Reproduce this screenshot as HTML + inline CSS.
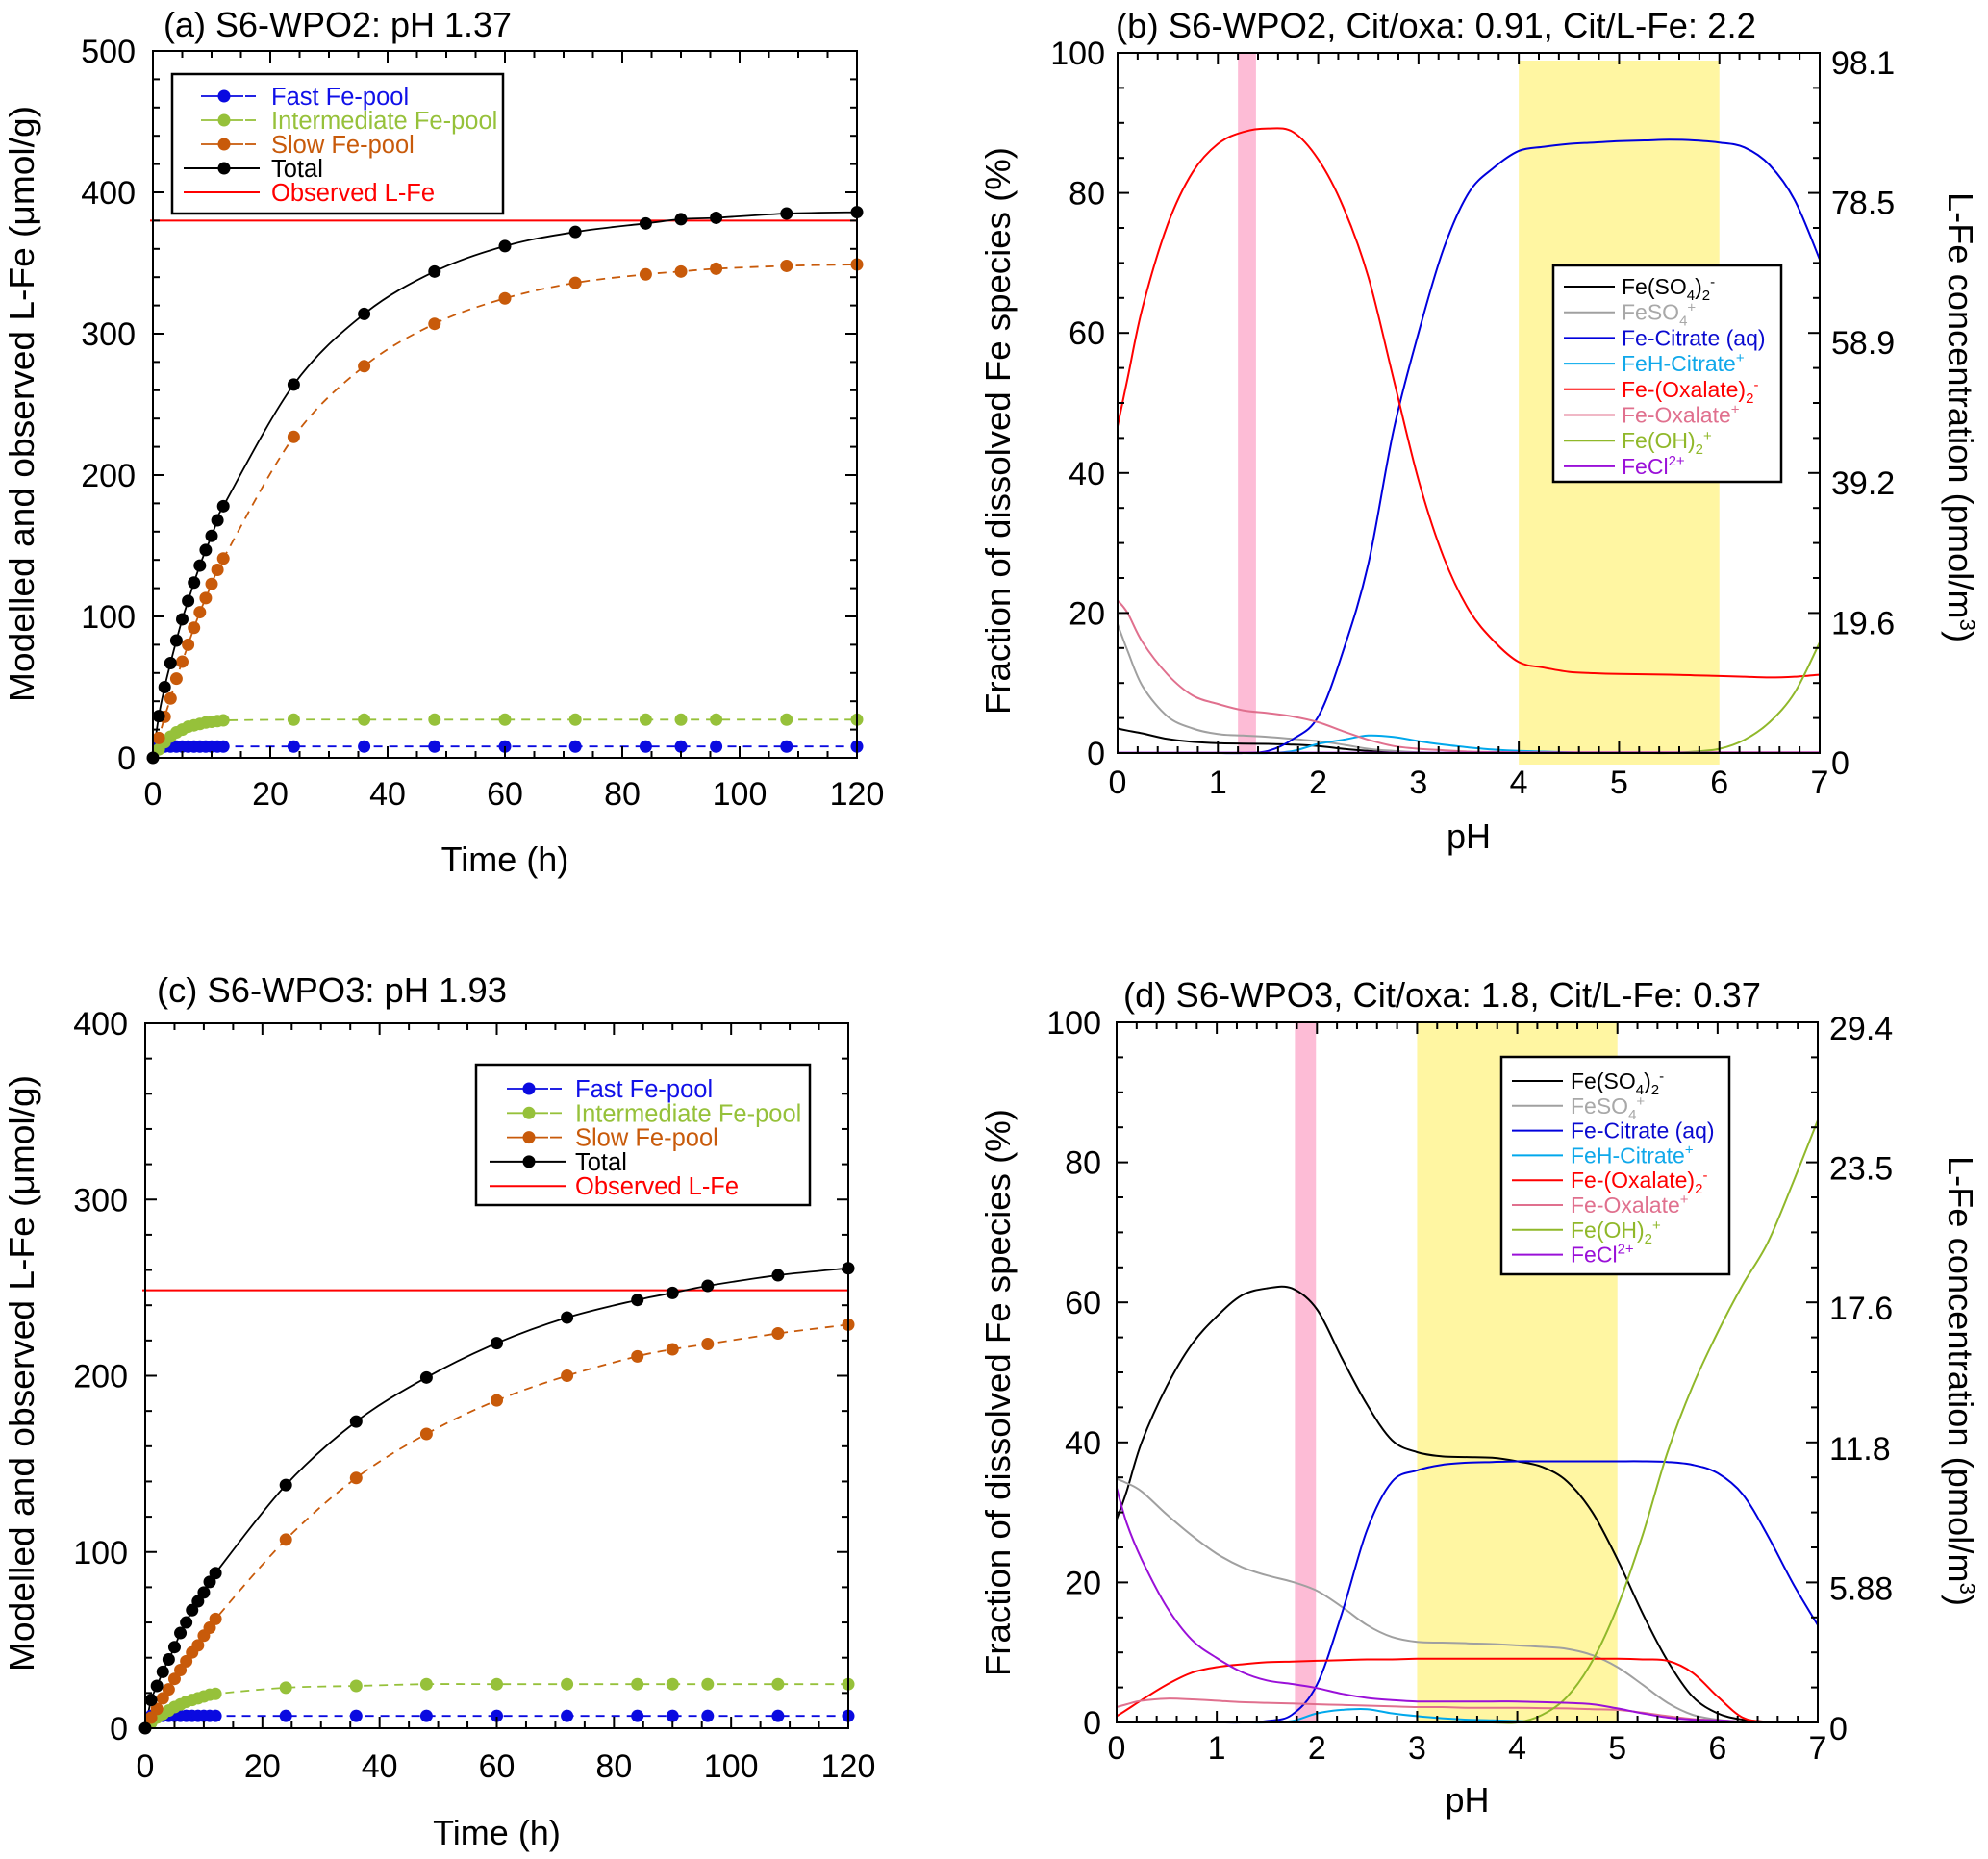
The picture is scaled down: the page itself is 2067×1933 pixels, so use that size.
<!DOCTYPE html>
<html><head><meta charset="utf-8"><style>
html,body{margin:0;padding:0;background:#fff;}
svg{display:block;font-family:"Liberation Sans",Arial,sans-serif;}
</style></head><body>
<svg id="chart" width="2067" height="1933" viewBox="0 0 2067 1933" xmlns="http://www.w3.org/2000/svg"></svg>
<script>
// ---------- Data: panels (a) and (c) ----------
const timesA = [0,1,2,3,4,5,6,7,8,9,10,11,12,24,36,48,60,72,84,90,96,108,120];
const fastA  = [0,8,8,8,8,8,8,8,8,8,8,8,8,8,8,8,8,8,8,8,8,8,8];
const interA = [0,6,11,15,18,20,22,23,24,25,25.5,26,26.5,27,27,27,27,27,27,27,27,27,27];
const slowA  = [0,14,29,42,56,68,80,92,103,113,123,133,141,227,277,307,325,336,342,344,346,348,349];
const totalA = [0,29.5,50,67,83,98,111,124,136,147,157,168,178,264,314,344,362,372,378,381,382,385,386];
const observedA = 380;

const timesC = [0,1,2,3,4,5,6,7,8,9,10,11,12,24,36,48,60,72,84,90,96,108,120];
const fastC  = [0,7,7,7,7,7,7,7,7,7,7,7,7,7,7,7,7,7,7,7,7,7,7];
const interC = [0,3,6,8,10,12,13.5,15,16,17,18,19,19.5,23,24,25,25,25,25,25,25,25,25];
const slowC  = [0,6,11,17,22,28,33,38,43,47,52.5,57,62,107,142,167,186,200,211,215,218,224,229];
const totalC = [0,16,24,32,39,46,54,60,67,72,77,83,88,138,174,199,218.5,233,243,247,251,257,261];
const observedC = 248.5;

const timeTicks = [0,20,40,60,80,100,120];
const yTicksA = [0,100,200,300,400,500];
const yTicksC = [0,100,200,300,400];

// ---------- Data: panels (b) and (d) ----------
const phGrid = [0,0.1,0.25,0.5,0.75,1,1.25,1.5,1.75,2,2.25,2.5,2.75,3,3.25,3.5,3.75,4,4.25,4.5,4.75,5,5.25,5.5,5.75,6,6.25,6.5,6.75,7];

const so42B  = [3.5,3.2,2.8,2,1.6,1.4,1.35,1.3,1.2,1,0.6,0.3,0.1,0,0,0,0,0,0,0,0,0,0,0,0,0,0,0,0,0];
const feso4B = [18.4,14.6,9.5,5.2,3.5,2.7,2.5,2.3,2,1.7,1.2,0.6,0.3,0.1,0,0,0,0,0,0,0,0,0,0,0,0,0,0,0,0];
const citB   = [0,0,0,0,0,0,0,0.3,2,5.2,14.6,27,46,60,72,80,83.6,86,86.6,87,87.2,87.4,87.5,87.6,87.5,87.2,86.5,84,79,70.5];
const fehB   = [0,0,0,0,0,0,0,0,0.3,1.3,1.9,2.5,2.3,1.7,1.2,0.8,0.5,0.3,0.2,0.1,0,0,0,0,0,0,0,0,0,0];
const oxal2B = [46.7,53.5,63.7,75.5,83,87,88.7,89.2,88.7,84.8,78,68,53.5,39,28,20.5,16,13,12.2,11.6,11.4,11.3,11.25,11.2,11.1,11,10.9,10.8,10.9,11.2];
const oxalB  = [21.8,20,15.8,11.2,8.2,7,6.1,5.7,5.2,4.4,3.1,1.9,1,0.6,0.4,0.2,0.15,0.1,0.1,0.1,0.1,0.1,0.1,0.1,0.1,0.1,0.1,0.1,0.1,0.1];
const ohB    = [0,0,0,0,0,0,0,0,0,0,0,0,0,0,0,0,0,0,0,0,0,0,0,0,0.2,0.6,1.9,4.4,8.6,15.8];
const clB    = [0.05,0.05,0.05,0.05,0.05,0.05,0.05,0.05,0.05,0.05,0.05,0.05,0.05,0.05,0.05,0.05,0.05,0.05,0.05,0.05,0.05,0.05,0.05,0.05,0.05,0.05,0.05,0.05,0.05,0.05];

const so42D  = [29,33,40,48,54,58,61,62,62,59,52,45.4,40.3,38.6,38,37.9,37.8,37.3,36.5,34.4,30,23.3,15.6,8.8,3.7,1.3,0.4,0.1,0,0];
const feso4D = [34.8,34.2,33,29.7,26.7,24.1,22.2,21,20.1,18.8,16.5,13.9,12.2,11.5,11.4,11.3,11.2,11,10.8,10.5,9.6,7.9,5.4,2.8,1.1,0.4,0.1,0,0,0];
const citD   = [0,0,0,0,0,0,0,0.2,1.1,5.4,15.6,27.5,34.4,36,36.8,37.1,37.2,37.3,37.3,37.3,37.3,37.3,37.3,37.2,36.8,35.6,32.6,26.7,19.9,13.9];
const fehD   = [0,0,0,0,0,0,0,0,0.2,1.3,1.8,1.9,1.3,0.9,0.6,0.4,0.3,0.2,0.1,0.1,0.1,0.1,0,0,0,0,0,0,0,0];
const oxal2D = [0.9,1.8,3.2,5.4,7.1,7.9,8.3,8.6,8.7,8.8,8.9,9,9,9.1,9.1,9.1,9.1,9.1,9.1,9.1,9.1,9.1,9,8.8,7.1,3.7,0.7,0.1,0,0];
const oxalD  = [2.2,2.6,3.1,3.4,3.3,3.1,2.9,2.8,2.7,2.6,2.5,2.4,2.3,2.2,2.2,2.1,2.1,2.1,2.05,2,1.9,1.8,1.4,0.9,0.5,0.3,0.1,0,0,0];
const ohD    = [0,0,0,0,0,0,0,0,0,0,0,0,0,0,0,0,0,0,1.1,3.7,8.8,16.5,26.7,38.6,48,55.7,62.5,68.5,77,86];
const clD    = [33.5,28.5,23.3,16.5,11.8,9.2,7.2,6,5.5,4.9,4.1,3.5,3.2,3,3,3,3,3,2.9,2.8,2.6,2,1.3,0.7,0.4,0.3,0.1,0,0,0];

const phTicks = [0,1,2,3,4,5,6,7];
const fracTicks = [0,20,40,60,80,100];
const rightTicksB = ["0","19.6","39.2","58.9","78.5","98.1"];
const rightTicksD = ["0","5.88","11.8","17.6","23.5","29.4"];
const pinkBandB = [1.2,1.38], yellowBandB = [4,6];
const pinkBandD = [1.78,1.99], yellowBandD = [3,5];

// ---------- Drawing helpers ----------
const NS = 'http://www.w3.org/2000/svg';
const svg = document.getElementById('chart');
function mk(tag, attrs, parent){
  const e = document.createElementNS(NS, tag);
  for (const k in attrs) e.setAttribute(k, attrs[k]);
  (parent || svg).appendChild(e);
  return e;
}
function scale(d0,d1,r0,r1){ return v => r0 + (v-d0)/(d1-d0)*(r1-r0); }
function smoothPath(xs, ys){
  let d = 'M'+xs[0].toFixed(1)+','+ys[0].toFixed(1);
  for (let i=0;i<xs.length-1;i++){
    const x0=xs[Math.max(i-1,0)], y0=ys[Math.max(i-1,0)];
    const x1=xs[i], y1=ys[i], x2=xs[i+1], y2=ys[i+1];
    const x3=xs[Math.min(i+2,xs.length-1)], y3=ys[Math.min(i+2,ys.length-1)];
    const c1x=x1+(x2-x0)/6, c1y=y1+(y2-y0)/6, c2x=x2-(x3-x1)/6, c2y=y2-(y3-y1)/6;
    d += ' C'+c1x.toFixed(1)+','+c1y.toFixed(1)+' '+c2x.toFixed(1)+','+c2y.toFixed(1)+' '+x2.toFixed(1)+','+y2.toFixed(1);
  }
  return d;
}
function text(str, x, y, size, anchor, fill, g){
  const t = mk('text', {x:x, y:y, 'font-size':size, 'text-anchor':anchor||'start', fill:fill||'#000'}, g);
  t.textContent = str;
  return t;
}

function frameAndTicks(g, P, xMajor, xMinorStep, xMax, yMajor, yMinorStep, yMax, rightLabels){
  const sx = P.sx, sy = P.sy;
  for (let v=0; v<=xMax+1e-9; v+=xMinorStep){
    const isMaj = xMajor.some(m=>Math.abs(m-v)<1e-6);
    const L = isMaj?12:7;
    const x = sx(v);
    const t1 = mk('line',{x1:x,y1:P.yb,x2:x,y2:P.yb-L,stroke:'#000','stroke-width':2},g);
    
    
    const t2 = mk('line',{x1:x,y1:P.yt,x2:x,y2:P.yt+L,stroke:'#000','stroke-width':2},g);
    
    
  }
  for (let v=0; v<=yMax+1e-9; v+=yMinorStep){
    const isMaj = yMajor.some(m=>Math.abs(m-v)<1e-6);
    const L = isMaj?12:7;
    const y = sy(v);
    const t1 = mk('line',{x1:P.xl,y1:y,x2:P.xl+L,y2:y,stroke:'#000','stroke-width':2},g);
    
    
    const t2 = mk('line',{x1:P.xr,y1:y,x2:P.xr-L,y2:y,stroke:'#000','stroke-width':2},g);
    
    
  }
  const fr = mk('rect',{x:P.xl,y:P.yt,width:P.xr-P.xl,height:P.yb-P.yt,fill:'none',stroke:'#000','stroke-width':2},g);
  
  
  xMajor.forEach(v=>{
    const t = text(String(v), sx(v), P.xlabY, 34, 'middle', '#000', g);
    
    
  });
  yMajor.forEach(v=>{
    const t = text(String(v), P.xl-P.ylGap, sy(v)+12, 34, 'end', '#000', g);
    
    
  });
  if (rightLabels){
    yMajor.forEach((v,i)=>{
      const t = text(rightLabels[i], P.xr+12, sy(v)+12+P.rOff, 34, 'start', '#000', g);
      
      
    });
  }
}

// ---------- Kinetics panels ----------
function kineticsPanel(P, times, fast, inter, slow, total, observed, yTicks, yMax, title, legendPos, name){
  const g = mk('g',{});
  
  
  P.sx = scale(0,120,P.xl,P.xr);
  P.sy = scale(0,yMax,P.yb,P.yt);
  const tt = text(title, P.titleX, P.titleY, 36, 'start', '#000', g);
  tt.setAttribute('textLength', P.titleLen);
  tt.setAttribute('lengthAdjust','spacingAndGlyphs');
  
  

  const obs = mk('line',{x1:P.xl-3,x2:P.xr,y1:P.sy(observed),y2:P.sy(observed),stroke:'#ff0000','stroke-width':2},g);
  
  

  const series = [
    {v:fast, c:'#0a0ae0', dash:'9,7', n:'fast-pool'},
    {v:inter,c:'#96c13a', dash:'9,7', n:'intermediate-pool'},
    {v:slow, c:'#c85a0a', dash:'9,7', n:'slow-pool'},
    {v:total,c:'#000', dash:null, n:'total'}
  ];
  series.forEach(s=>{
    const xs = times.map(P.sx), ys = s.v.map(P.sy);
    const attrs = {d: smoothPath(xs,ys), fill:'none', stroke:s.c, 'stroke-width':1.8};
    if (s.dash) attrs['stroke-dasharray'] = s.dash;
    const p = mk('path', attrs, g);
    
    
  });
  series.forEach(s=>{
    s.v.forEach((v,i)=>{
      if (s.n!=='total' && i===0) return;
      const c = mk('circle',{cx:P.sx(times[i]), cy:P.sy(v), r:6.5, fill:s.c}, g);
      
      
    });
  });
  frameAndTicks(g, P, timeTicks, 5, 120, yTicks, 20, yMax, null);

  const xt = text('Time (h)', (P.xl+P.xr)/2, P.xTitleY, 36, 'middle', '#000', g);
  
  
  const yt = text('Modelled and observed L-Fe  (\u03bcmol/g)', 0, 0, 36, 'middle', '#000', g);
  yt.setAttribute('transform','translate('+(P.yTitleX)+','+P.yTitleY+') rotate(-90)');
  yt.setAttribute('textLength', 620);
  yt.setAttribute('lengthAdjust','spacingAndGlyphs');
  
  

  const L = legendPos;
  const lg = mk('g',{},g);
  
  
  const box = mk('rect',{x:L.x,y:L.y,width:L.w,height:L.h,fill:'#fff',stroke:'#000','stroke-width':2.5},lg);
  
  
  const entries = [
    {t:'Fast Fe-pool', c:'#0a0ae0', txt:'#1010e8', m:true, dash:true},
    {t:'Intermediate Fe-pool', c:'#96c13a', txt:'#96c13a', m:true, dash:true},
    {t:'Slow Fe-pool', c:'#c85a0a', txt:'#c85a0a', m:true, dash:true},
    {t:'Total', c:'#000', txt:'#000', m:true, dash:false},
    {t:'Observed L-Fe', c:'#ff0000', txt:'#ff0000', m:false, dash:false}
  ];
  entries.forEach((e,i)=>{
    const y = L.row0 + i*L.step;
    const eg = mk('g',{},lg);
    
    
    if (e.dash){
      mk('line',{x1:L.lx1+18,x2:L.mx+20,y1:y,y2:y,stroke:e.c,'stroke-width':1.8},eg);
      mk('line',{x1:L.mx+22,x2:L.lx2-4,y1:y,y2:y,stroke:e.c,'stroke-width':1.8},eg);
    } else {
      mk('line',{x1:L.lx1,x2:L.lx2,y1:y,y2:y,stroke:e.c,'stroke-width':2},eg);
    }
    if (e.m) mk('circle',{cx:L.mx,cy:y,r:6.5,fill:e.c},eg);
    const t = text(e.t, L.tx, y+9, 25.5, 'start', e.txt, eg);
    
    
  });
}

kineticsPanel({xl:159,xr:891,yt:53,yb:788,titleX:170,titleY:38,titleLen:362,xlabY:837,ylGap:18,xTitleY:906,yTitleX:35,yTitleY:420},
  timesA,fastA,interA,slowA,totalA,observedA,yTicksA,500,'(a) S6-WPO2: pH 1.37',
  {x:179,y:77,w:344,h:145,row0:100,step:25,lx1:191,lx2:270,mx:233,tx:282},'panel-a');
kineticsPanel({xl:151,xr:882,yt:1064,yb:1797,titleX:163,titleY:1042,titleLen:364,xlabY:1848,ylGap:18,xTitleY:1918,yTitleX:35,yTitleY:1428},
  timesC,fastC,interC,slowC,totalC,observedC,yTicksC,400,'(c) S6-WPO3: pH 1.93',
  {x:495,y:1107,w:347,h:146,row0:1132,step:25.3,lx1:509,lx2:588,mx:550,tx:598},'panel-c');

// ---------- Speciation panels ----------
function speciationPanel(P, series, rightLabels, pink, yellow, title, legendPos, name){
  const g = mk('g',{});
  
  
  P.sx = scale(0,7,P.xl,P.xr);
  P.sy = scale(0,100,P.yb,P.yt);
  const tt = text(title, P.titleX, P.titleY, 36, 'start', '#000', g);
  tt.setAttribute('textLength', P.titleLen);
  tt.setAttribute('lengthAdjust','spacingAndGlyphs');
  
  
  const pb = mk('rect',{x:P.sx(pink[0]),y:P.yt,width:P.sx(pink[1])-P.sx(pink[0]),height:P.yb-P.yt,fill:'#fdbcd6'},g);
  
  
  const yb = mk('rect',{x:P.sx(yellow[0]),y:P.bandT,width:P.sx(yellow[1])-P.sx(yellow[0]),height:P.bandB-P.bandT,fill:'#fff6a2'},g);
  
  
  series.forEach(s=>{
    const xs = phGrid.map(P.sx), ys = s.v.map(P.sy);
    const p = mk('path',{d:smoothPath(xs,ys),fill:'none',stroke:s.c,'stroke-width':2},g);
    
    
  });
  frameAndTicks(g, P, phTicks, 0.2, 7, fracTicks, 5, 100, rightLabels);
  const xt = text('pH', (P.xl+P.xr)/2, P.xTitleY, 36, 'middle', '#000', g);
  
  
  const yt = text('Fraction of dissolved Fe species (%)', 0, 0, 36, 'middle', '#000', g);
  yt.setAttribute('transform','translate('+P.yTitleX+','+P.yTitleY+') rotate(-90)');
  yt.setAttribute('textLength', 590);
  yt.setAttribute('lengthAdjust','spacingAndGlyphs');
  
  
  const rt = mk('text',{x:0,y:0,'font-size':36,'text-anchor':'middle',fill:'#000',transform:'translate('+P.rTitleX+','+P.rTitleY+') rotate(90)'},g);
  rt.textContent = 'L-Fe concentration (pmol/m';
  const sup = mk('tspan',{'font-size':22,dy:-12},rt); sup.textContent='3';
  const cl = mk('tspan',{dy:12},rt); cl.textContent=')';
  rt.setAttribute('textLength', 468);
  
  

  const L = legendPos;
  const lg = mk('g',{},g);
  
  
  const box = mk('rect',{x:L.x,y:L.y,width:L.w,height:L.h,fill:'#fff',stroke:'#000','stroke-width':2.5},lg);
  
  
  series.forEach((s,i)=>{
    const y = L.row0 + i*L.step;
    const eg = mk('g',{},lg);
    
    
    mk('line',{x1:L.lx1,x2:L.lx2,y1:y,y2:y,stroke:s.c,'stroke-width':2},eg);
    const t = mk('text',{x:L.tx,y:y+8,'font-size':23,fill:s.tc},eg);
    s.parts.forEach(pt=>{
      const sp = mk('tspan',{},t);
      if (pt[1]==='sub'){ sp.setAttribute('font-size',15); sp.setAttribute('dy',6); }
      else if (pt[1]==='sup'){ sp.setAttribute('font-size',15); sp.setAttribute('dy',-14); }
      else if (pt[1]==='sup0'){ sp.setAttribute('font-size',15); sp.setAttribute('dy',-9); }
      else if (pt[1]==='dn'){ sp.setAttribute('dy',-6); }
      sp.textContent = pt[0];
    });
    
    
  });
}
function speciesList(so42, feso4, cit, feh, oxal2, oxal, oh, cl){
  return [
    {n:'fe-so4-2', v:so42, c:'#000000', tc:'#000000', parts:[['Fe(SO',''],['4','sub'],[')','dn'],['2','sub'],['-','sup']]},
    {n:'feso4', v:feso4, c:'#a0a0a0', tc:'#a8a8a8', parts:[['FeSO',''],['4','sub'],['+','sup']]},
    {n:'fe-citrate', v:cit, c:'#0000dd', tc:'#0a0ad0', parts:[['Fe-Citrate (aq)','']]},
    {n:'feh-citrate', v:feh, c:'#00a8ec', tc:'#10a8ea', parts:[['FeH-Citrate',''],['+','sup0']]},
    {n:'fe-oxalate-2', v:oxal2, c:'#ff0000', tc:'#ff0000', parts:[['Fe-(Oxalate)',''],['2','sub'],['-','sup']]},
    {n:'fe-oxalate', v:oxal, c:'#e0708e', tc:'#e0708e', parts:[['Fe-Oxalate',''],['+','sup0']]},
    {n:'fe-oh-2', v:oh, c:'#90b82a', tc:'#90b82a', parts:[['Fe(OH)',''],['2','sub'],['+','sup']]},
    {n:'fecl', v:cl, c:'#9a10d8', tc:'#9a10d8', parts:[['FeCl',''],['2+','sup0']]}
  ];
}
speciationPanel({xl:1162,xr:1892,yt:55,yb:783,titleX:1160,titleY:39,titleLen:666,xlabY:825,ylGap:13,rOff:10,xTitleY:882,
   yTitleX:1050,yTitleY:448,rTitleX:2026,rTitleY:434,bandT:63,bandB:795},
  speciesList(so42B,feso4B,citB,fehB,oxal2B,oxalB,ohB,clB), rightTicksB, pinkBandB, yellowBandB,
  '(b) S6-WPO2, Cit/oxa: 0.91, Cit/L-Fe: 2.2',
  {x:1615,y:276,w:237,h:225,row0:298,step:26.7,lx1:1626,lx2:1679,tx:1686},'panel-b');
speciationPanel({xl:1161,xr:1890,yt:1063,yb:1791,titleX:1168,titleY:1047,titleLen:663,xlabY:1829,ylGap:16,rOff:6,xTitleY:1884,
   yTitleX:1050,yTitleY:1448,rTitleX:2026,rTitleY:1436,bandT:1063,bandB:1791},
  speciesList(so42D,feso4D,citD,fehD,oxal2D,oxalD,ohD,clD), rightTicksD, pinkBandD, yellowBandD,
  '(d) S6-WPO3, Cit/oxa: 1.8, Cit/L-Fe: 0.37',
  {x:1561,y:1099,w:237,h:226,row0:1124,step:25.8,lx1:1572,lx2:1625,tx:1633},'panel-d');
</script>
</body></html>
